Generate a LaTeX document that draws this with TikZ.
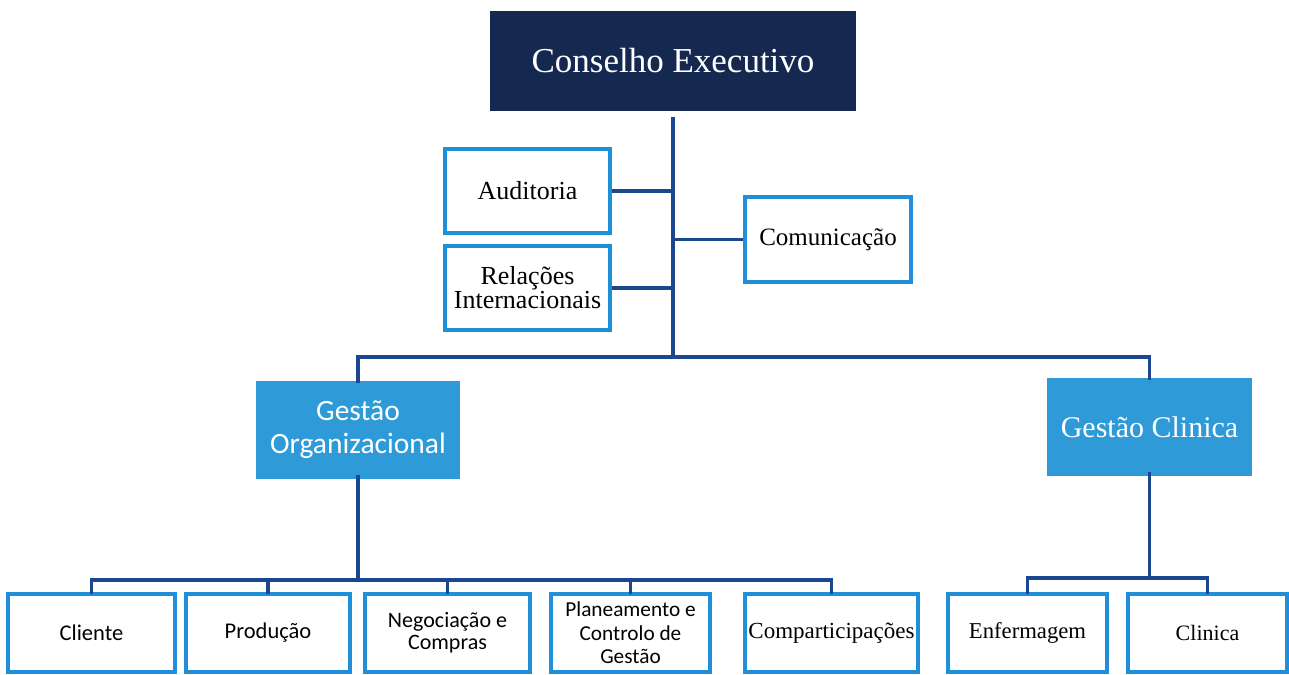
\documentclass[tikz,border=0pt]{standalone}
\usepackage{fontspec}
\setmainfont{Liberation Serif}
\newfontfamily\calfont{Carlito}
\definecolor{navy}{HTML}{15284F}
\definecolor{midblue}{HTML}{2E9AD8}
\definecolor{lightb}{HTML}{1E8FD8}
\definecolor{linec}{HTML}{1A4692}
\tikzset{
  wbox/.style={draw=lightb, line width=3.5pt, fill=white, align=center, inner sep=2pt},
  bbox/.style={fill=midblue, text=white, align=center, inner sep=2pt},
  conn/.style={draw=linec, line width=3.5pt},
}
\begin{document}
\begin{tikzpicture}[x=1pt,y=-1pt]
\useasboundingbox (0,0) rectangle (1289,674);
% top
\node[fill=navy, text=white, minimum width=366pt, minimum height=100pt, font=\fontsize{35}{40}\selectfont] (ce) at (673,61) {Conselho Executivo};
\node[wbox, minimum width=165pt, minimum height=84pt, font=\fontsize{26}{24}\selectfont] (aud) at (527.5,191) {Auditoria};
\node[wbox, minimum width=165pt, minimum height=84pt, font=\fontsize{26}{24}\selectfont] (rel) at (527.5,288) {Relações\\Internacionais};
\node[wbox, minimum width=166pt, minimum height=85pt, font=\fontsize{25}{24}\selectfont] (com) at (828,239.5) {Comunicação};
% middle
\node[bbox, minimum width=204pt, minimum height=98pt, font=\calfont\fontsize{29.5}{33}\selectfont] (go) at (358,430) {Gestão\\Organizacional};
\node[bbox, minimum width=205pt, minimum height=98pt, font=\fontsize{30}{33}\selectfont] (gc) at (1149.5,427) {Gestão Clinica};
% bottom
\node[wbox, minimum width=167pt, minimum height=78pt, font=\calfont\fontsize{22.5}{23}\selectfont] (cli) at (91.5,633) {Cliente};
\node[wbox, minimum width=164pt, minimum height=78pt, font=\calfont\fontsize{22.5}{23}\selectfont] (pro) at (268,633) {Produção};
\node[wbox, minimum width=165pt, minimum height=78pt, font=\calfont\fontsize{22}{22}\selectfont] (neg) at (447.5,633) {Negociação e\\Compras};
\node[wbox, minimum width=159pt, minimum height=78pt, font=\calfont\fontsize{21.3}{23.5}\selectfont] (pla) at (630.5,633) {Planeamento e\\Controlo de\\Gestão};
\node[wbox, minimum width=173pt, minimum height=78pt, font=\fontsize{23}{23}\selectfont] (comp) at (831.5,633) {Comparticipações};
\node[wbox, minimum width=159pt, minimum height=78pt, font=\fontsize{22.7}{23}\selectfont] (enf) at (1027.5,633) {Enfermagem};
\node[wbox, minimum width=159pt, minimum height=78pt, font=\fontsize{22}{23}\selectfont] (clin) at (1207.5,633) {Clinica};
% junctions
\coordinate (j1) at (673,357);
\coordinate (j2) at (358,580);
\coordinate (j3) at (1149.5,578);
% connectors
\draw[conn] ([yshift=-6pt]ce.south) -- (j1);
\draw[conn] (aud.east) -- (aud.east -| j1);
\draw[conn] (rel.east) -- (rel.east -| j1);
\draw[conn] (com.west) -- (com.west -| j1);
\draw[conn] ([yshift=-2pt]go.north) |- (j1) -| ([yshift=-2pt]gc.north);
\draw[conn] ([yshift=4pt]go.south) -- (j2);
\draw[conn] ([yshift=-2pt]cli.north) |- (j2) -| ([yshift=-2pt]comp.north);
\draw[conn] ([yshift=-2pt]pro.north) -- (pro.north |- j2);
\draw[conn] ([yshift=-2pt]neg.north) -- (neg.north |- j2);
\draw[conn] ([yshift=-2pt]pla.north) -- (pla.north |- j2);
\draw[conn] ([yshift=4pt]gc.south) -- (j3);
\draw[conn] ([yshift=-2pt]enf.north) |- (j3) -| ([yshift=-2pt]clin.north);
\end{tikzpicture}
\end{document}
